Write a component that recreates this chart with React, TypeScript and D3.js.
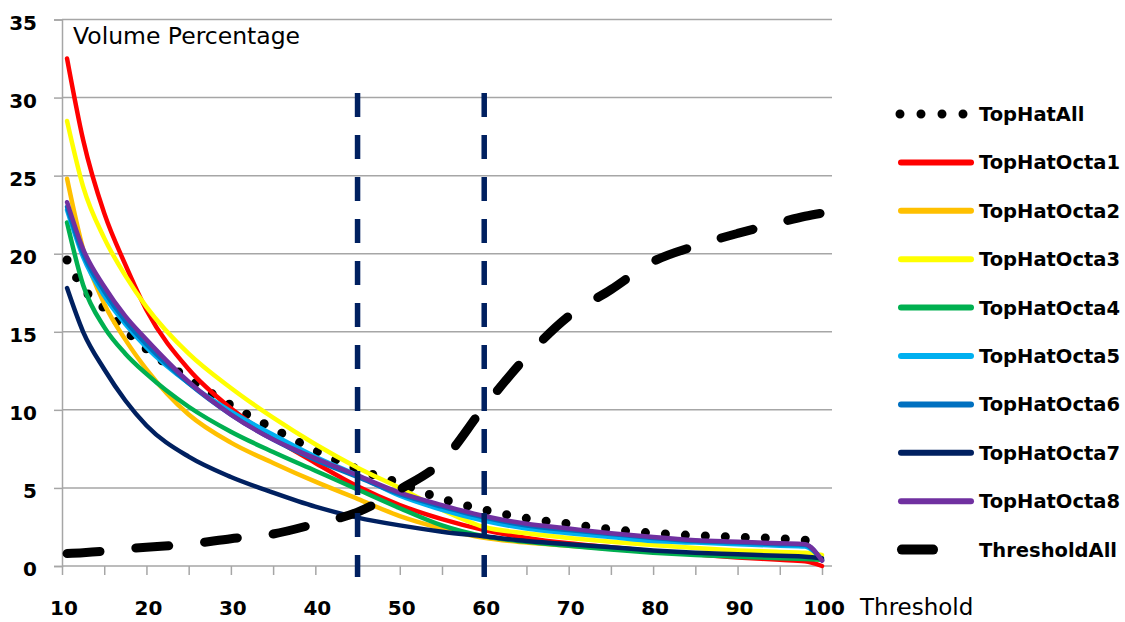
import React, { useEffect, useRef } from "react";
import * as d3 from "d3";

// threshold values (x) shared by every series
const thresholds = [10.6, 12.5, 15, 17.5, 20, 25, 30, 35, 40, 45, 50, 55, 60, 65, 70, 75, 80, 85, 90, 95, 98, 100];

const topHatAll = [19.6, 17.8, 16.5, 15.1, 13.9, 12.0, 10.3, 8.8, 7.4, 6.2, 5.3, 4.3, 3.6, 3.05, 2.7, 2.35, 2.1, 1.95, 1.85, 1.75, 1.65, 1.5];
const octa1 = [32.5, 27.3, 22.6, 19.3, 16.4, 12.6, 10.1, 8.2, 6.6, 5.1, 3.9, 3.0, 2.3, 1.8, 1.45, 1.2, 0.95, 0.75, 0.55, 0.4, 0.3, 0.0];
const octa2 = [24.8, 20.3, 16.8, 14.5, 12.6, 9.7, 7.9, 6.6, 5.4, 4.3, 3.2, 2.4, 1.8, 1.5, 1.3, 1.1, 0.95, 0.8, 0.7, 0.6, 0.55, 0.4];
const octa3 = [28.5, 24.3, 21.0, 18.6, 16.6, 13.6, 11.4, 9.5, 7.8, 6.3, 5.0, 3.6, 2.5, 2.1, 1.8, 1.55, 1.35, 1.15, 1.0, 0.9, 0.85, 0.7];
const octa4 = [22.0, 18.0, 15.3, 13.6, 12.3, 10.2, 8.6, 7.3, 6.1, 4.9, 3.7, 2.6, 1.9, 1.55, 1.3, 1.05, 0.85, 0.7, 0.6, 0.5, 0.45, 0.4];
const octa5 = [22.8, 19.8, 17.3, 15.5, 14.0, 11.7, 9.9, 8.4, 7.0, 5.8, 4.5, 3.6, 2.9, 2.4, 2.1, 1.85, 1.6, 1.5, 1.4, 1.3, 1.25, 0.4];
const octa6 = [23.0, 20.0, 17.6, 15.7, 14.2, 11.7, 9.7, 8.1, 6.8, 5.7, 4.6, 3.8, 3.1, 2.6, 2.3, 2.05, 1.8, 1.6, 1.5, 1.4, 1.35, 0.35];
const octa7 = [17.8, 15.0, 12.6, 10.6, 9.0, 7.0, 5.7, 4.7, 3.8, 3.1, 2.6, 2.2, 1.9, 1.6, 1.4, 1.2, 1.0, 0.85, 0.75, 0.65, 0.6, 0.5];
const octa8 = [23.3, 20.3, 17.9, 16.0, 14.5, 11.8, 9.7, 8.1, 6.9, 5.8, 4.7, 3.9, 3.2, 2.7, 2.4, 2.1, 1.85, 1.65, 1.55, 1.45, 1.4, 0.35];
const thresholdAll = [0.8, 0.85, 0.95, 1.1, 1.2, 1.4, 1.75, 2.05, 2.7, 3.45, 4.9, 6.7, 10.2, 13.4, 16.0, 17.7, 19.5, 20.5, 21.3, 22.0, 22.4, 22.6];

const octaNames = ["TopHatOcta1", "TopHatOcta2", "TopHatOcta3", "TopHatOcta4", "TopHatOcta5", "TopHatOcta6", "TopHatOcta7", "TopHatOcta8"];
const octaColors = ["#FF0000", "#FFC000", "#FFFF00", "#00B050", "#00B0F0", "#0070C0", "#002060", "#7030A0"];
const octaSeries = [octa1, octa2, octa3, octa4, octa5, octa6, octa7, octa8];

// vertical reference lines
const markerX = [45, 60];
const markerRange = [30.3, -0.7];

const yTicks = [0, 5, 10, 15, 20, 25, 30, 35];
const xTicks = d3.range(10, 101, 5);
const xLabels = [10, 20, 30, 40, 50, 60, 70, 80, 90, 100];

const App = () => {
    const chartRef = useRef<HTMLDivElement>(null);

    useEffect(() => {
        d3.select(chartRef.current).select("svg").remove();

        const W = 1125;
        const H = 622;

        const svg = d3
            .select(chartRef.current)
            .append("svg")
            .attr("width", W)
            .attr("height", H)
            .style("position", "absolute")
            .style("left", "0px")
            .style("top", "0px")
            .style("background", "#fff");

        const xScale = d3.scaleLinear().domain([10, 100]).range([62, 822]);
        const yScale = d3.scaleLinear().domain([0, 35]).range([566, 19.5]);
        const gridRight = 832;

        // gridlines
        svg.append("g")
            .selectAll("line")
            .data(yTicks.filter((d) => d > 0))
            .enter()
            .append("line")
            .attr("x1", xScale(10))
            .attr("x2", gridRight)
            .attr("y1", (d) => yScale(d))
            .attr("y2", (d) => yScale(d))
            .attr("stroke", "#A6A6A6")
            .attr("stroke-width", 1.5);

        // y axis
        const yAxis = svg.append("g").attr("transform", `translate(${xScale(10)},0)`)
            .call(d3.axisLeft(yScale).tickValues(yTicks).tickSize(8).tickFormat(() => ""));
        yAxis.selectAll("path, line").attr("stroke", "#A6A6A6").attr("stroke-width", 1.5);

        // x axis
        const xAxis = svg.append("g").attr("transform", `translate(0,${yScale(0)})`)
            .call(d3.axisBottom(xScale).tickValues(xTicks).tickSize(9).tickSizeOuter(0).tickFormat(() => ""));
        xAxis.selectAll("path, line").attr("stroke", "#A6A6A6").attr("stroke-width", 1.5);
        xAxis.select("path").attr("d", `M${xScale(10)},0H${gridRight}`);

        // tick labels
        svg.append("g")
            .selectAll("text")
            .data(yTicks)
            .enter()
            .append("text")
            .attr("x", 37)
            .attr("y", (d) => yScale(d) + 10)
            .attr("text-anchor", "end")
            .style("font-family", "DejaVu Sans")
            .style("font-weight", "bold")
            .style("font-size", "20px")
            .text((d) => d);

        svg.append("g")
            .selectAll("text")
            .data(xLabels)
            .enter()
            .append("text")
            .attr("x", (d) => xScale(d) + 2)
            .attr("y", 615)
            .attr("text-anchor", "middle")
            .style("font-family", "DejaVu Sans")
            .style("font-weight", "bold")
            .style("font-size", "20px")
            .text((d) => d);

        svg.append("text")
            .attr("x", 73)
            .attr("y", 44)
            .style("font-family", "DejaVu Sans")
            .style("font-size", "23.5px")
            .text("Volume Percentage");

        svg.append("text")
            .attr("x", 860)
            .attr("y", 615)
            .style("font-family", "DejaVu Sans")
            .style("font-size", "23px")
            .text("Threshold");

        const line = d3
            .line<number>()
            .x((d, i) => xScale(thresholds[i]))
            .y((d) => yScale(d))
            .curve(d3.curveMonotoneX);

        // TopHatAll - round dots
        svg.append("path")
            .attr("d", line(topHatAll))
            .attr("fill", "none")
            .attr("stroke", "#000")
            .attr("stroke-width", 9)
            .attr("stroke-linecap", "round")
            .attr("stroke-dasharray", "0 20");

        // octa series
        octaSeries.forEach((vals, k) => {
            svg.append("path")
                .attr("d", line(vals))
                .attr("fill", "none")
                .attr("stroke", octaColors[k])
                .attr("stroke-width", 4.5)
                .attr("stroke-linejoin", "round")
                .attr("stroke-linecap", "round");
        });

        // ThresholdAll - thick black dashes
        svg.append("path")
            .attr("d", line(thresholdAll))
            .attr("fill", "none")
            .attr("stroke", "#000")
            .attr("stroke-width", 9)
            .attr("stroke-linecap", "round")
            .attr("stroke-dasharray", "33 36");

        // vertical dashed markers
        svg.append("g")
            .selectAll("line")
            .data(markerX)
            .enter()
            .append("line")
            .attr("x1", (d) => xScale(d))
            .attr("x2", (d) => xScale(d))
            .attr("y1", yScale(markerRange[0]))
            .attr("y2", yScale(markerRange[1]))
            .attr("stroke", "#002060")
            .attr("stroke-width", 5.5)
            .attr("stroke-dasharray", "24 18");

        // legend
        const legendNames = ["TopHatAll", ...octaNames, "ThresholdAll"];
        const lg = svg.append("g");
        legendNames.forEach((name, i) => {
            const cy = 114 + i * 48.4;
            if (i === 0) {
                lg.append("line")
                    .attr("x1", 900).attr("x2", 966).attr("y1", cy).attr("y2", cy)
                    .attr("stroke", "#000").attr("stroke-width", 9)
                    .attr("stroke-linecap", "round").attr("stroke-dasharray", "0 21");
            } else if (i === legendNames.length - 1) {
                lg.append("line")
                    .attr("x1", 902).attr("x2", 933).attr("y1", cy).attr("y2", cy)
                    .attr("stroke", "#000").attr("stroke-width", 10)
                    .attr("stroke-linecap", "round");
            } else {
                lg.append("line")
                    .attr("x1", 901).attr("x2", 971).attr("y1", cy).attr("y2", cy)
                    .attr("stroke", octaColors[i - 1]).attr("stroke-width", 6)
                    .attr("stroke-linecap", "round");
            }
            lg.append("text")
                .attr("x", 979)
                .attr("y", cy + 7)
                .style("font-family", "DejaVu Sans")
                .style("font-weight", "bold")
                .style("font-size", "19.5px")
                .text(name);
        });
    }, []);

    return <div ref={chartRef}></div>;
};

export default App;
